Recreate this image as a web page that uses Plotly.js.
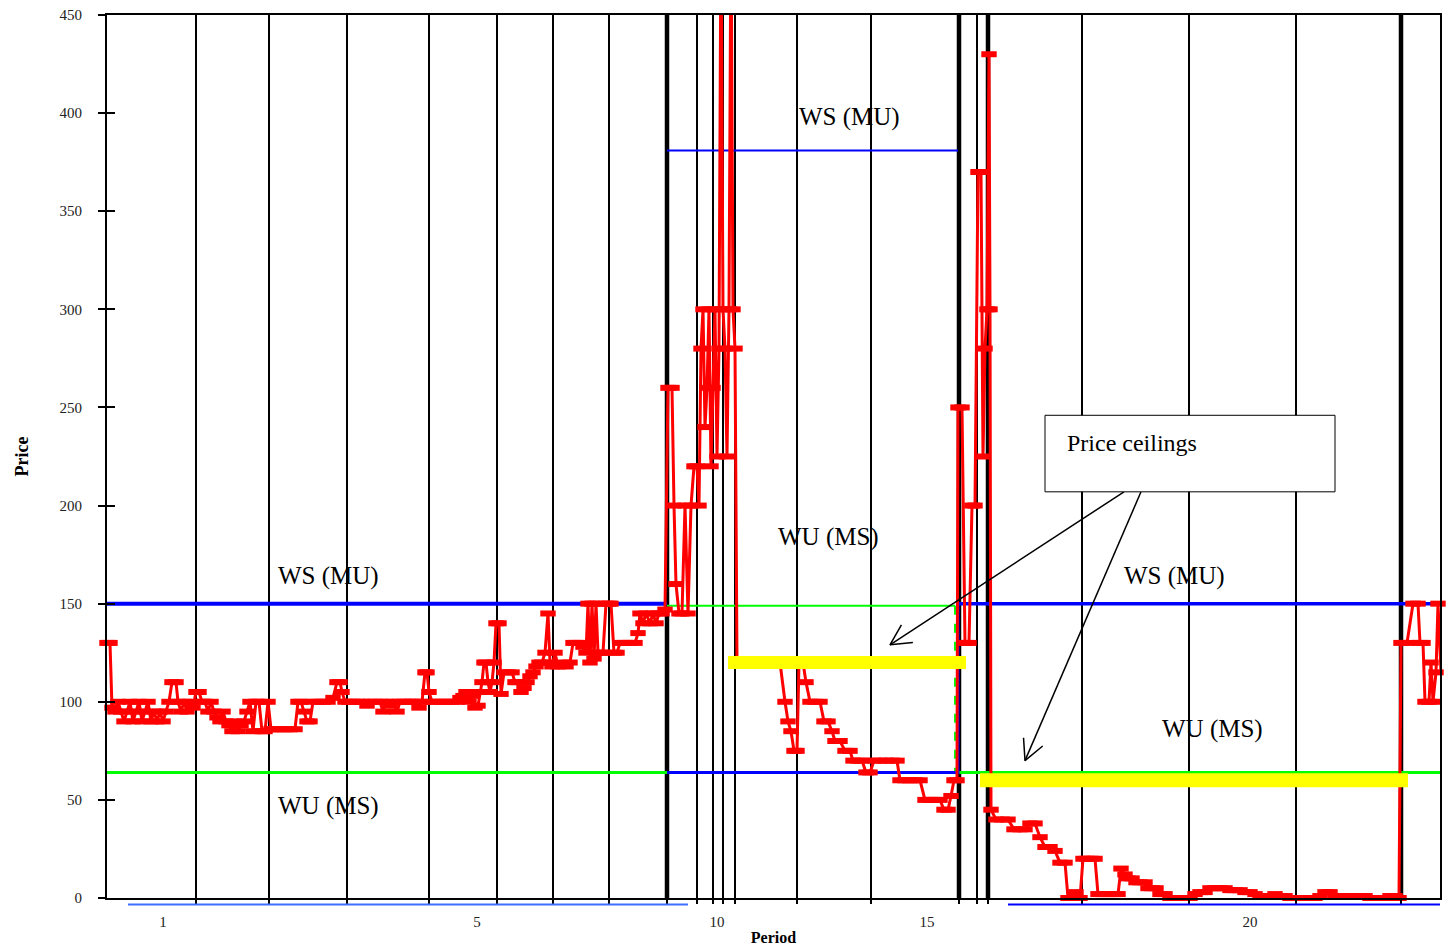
<!DOCTYPE html>
<html>
<head>
<meta charset="utf-8">
<script src="https://cdn.plot.ly/plotly-3.0.1.min.js"></script>
<style>html,body{margin:0;padding:0;background:#fff;}</style>
</head>
<body>
<div id="chart" style="width:1449px;height:950px"></div>
<script>
// ---- data (x = trade number, y = price) ----
const tradeNo = [
  0,3,5,8,11,14,17,20,23,26,29,32,35,38,41,44,47,50,53,56,59,62,65,69,71,74,77,80,83,86,89,
  92,95,98,101,104,107,110,113,116,119,122,125,128,131,134,137,140,143,146,149,152,155,158,161,
  164,168,173,178,183,188,191,194,197,200,203,206,211,216,221,226,230,233,235,238,
  242,246,251,256,260,263,268,273,276,279,283,286,290,293,297,301,305,309,312,315,318,320,322,
  325,330,335,340,345,350,353,356,359,362,365,368,371,373,375,377,379,381,383,385,387,389,392,394,
  397,401,405,408,411,414,417,420,423,426,429,432,435,438,441,443,445,
  448,451,455,459,463,466,469,473,476,479,481,483,485,487,489,491,493,496,499,502,
  504,507,510,513,518,523,528,531,533,536,539,543,546,549,552,555,558,
  561,565,567,569,572,575,578,581,584,587,590,592,594,596,598,600,602,604,606,608,610,612,614,616,618,620,622,624,626,628,630,
  633,643,653,663,673,678,681,684,687,690,692,696,699,703,708,713,717,721,725,728,733,738,743,746,751,755,759,763,767,773,779,785,790,793,798,803,808,813,818,823,828,833,837,841,844,847,850,
  851,855,858,862,865,868,871,874,876,878,880,882,883,884,
  889,895,901,907,913,918,923,928,933,938,943,948,953,958,961,965,969,973,976,980,984,988,991,996,1001,1006,1011,1014,1018,1021,1025,1029,1033,1038,1041,1045,1049,1053,1058,1063,1068,1073,1078,1083,1088,1093,1098,1103,1108,1113,1118,1123,1128,1133,1138,1143,1148,1153,1158,1163,1168,1173,1178,1183,1188,1193,1198,1203,1208,1213,1218,1223,1228,1233,1238,1243,1248,1253,1258,1263,1268,1273,1278,1283,1288,1292,
  1294,1300,1306,1311,1313,1316,1318,1322,1324,1326,1329,1331,1334,1337
];
const price = [
  130,130,97,95,100,95,90,95,100,90,95,100,90,95,100,90,95,90,95,90,95,100,110,110,100,95,100,95,100,97,105,
  105,100,100,95,100,95,92,90,95,90,88,85,90,85,88,90,95,100,85,100,100,85,85,100,
  86,86,86,86,86,86,100,100,95,90,90,100,100,100,100,102,110,110,105,100,
  100,100,100,100,98,100,100,100,95,100,98,100,95,100,100,100,100,100,97,100,115,115,105,
  100,100,100,100,100,100,102,103,105,100,103,97,98,105,110,120,120,110,105,110,120,140,140,104,
  115,115,115,110,110,105,107,110,113,115,118,120,120,125,145,120,118,
  125,118,120,118,120,130,130,130,128,125,150,120,150,122,150,125,125,125,150,150,
  150,125,125,130,130,130,130,135,145,140,145,140,145,140,145,145,147,
  260,260,200,160,145,145,200,145,200,220,220,200,280,300,240,260,300,220,260,300,225,280,500,300,280,225,300,500,300,280,120,
  120,120,120,120,120,100,90,85,75,75,120,120,110,100,100,100,90,90,85,80,80,75,75,70,70,70,64,64,70,70,70,70,70,60,60,60,60,60,50,50,50,50,45,45,52,60,60,
  250,250,130,130,200,200,370,370,225,280,300,430,300,45,
  40,40,40,35,35,35,38,38,31,26,26,24,18,18,0,0,3,0,20,20,20,20,2,2,2,2,2,15,12,10,10,8,8,8,5,5,5,2,2,0,0,0,0,0,2,3,3,5,5,5,5,4,4,4,3,3,2,1,1,1,2,1,1,0,0,0,0,0,0,1,3,3,1,1,1,1,1,1,1,0,0,0,0,1,1,0,
  130,130,150,150,130,130,100,100,120,100,115,150,115,150
];

// period boundaries (trade numbers) and the heavier regime boundaries
const periodBounds = [89,162,240,322,390,446,502,560,590,606,616,628,690,764,852,870,881,975,1082,1189,1294];
const heavyBounds = [560,852,881,1294];
const periodTickPos = [56,370,610,820,1143];
const periodTickText = ['1','5','10','15','20'];
const priceTicks = [0,50,100,150,200,250,300,350,400,450];

// value / cost limits per regime
const regimeStart = [0,560,851];
const regimeEnd = [560,851,1333];
const blueLevel = [150,381,150];
const greenLevel = [64,149,64];
const lowBlueLevel = 64;      // regime 2 lower blue line

// price ceilings
const ceilingStart = [621,873];
const ceilingEnd = [859,1301];
const ceilingLevel = [120,60];

// thin blue rules under the axis
const ruleStart = [21,901];
const ruleEnd = [581,1342];
const ruleColor = ['#3f6fff','#0000ff'];

// regime labels
const labelText = ['WS (MU)','WU (MS)','WS (MU)','WU (MS)','WS (MU)','WU (MS)'];
const labelT = [221,221,742,721,1067,1105];
const labelP = [164,47,398,184,164,86];

// "Price ceilings" call-out
const boxT = [938,1228];
const boxP = [207,246];
const boxTextT = 958, boxTextP = 232;
const arrowTailT = [1017,1034], arrowTailP = [207,207];
const arrowTipT = [783,918], arrowTipP = [129,70];

// ---- geometry helpers ----
const W = 1449, H = 950, M = {l:107, r:9, t:15, b:52};
const xRange = [0,1333], yRange = [0,450];
const pxPerT = (W - M.l - M.r) / (xRange[1]-xRange[0]);
const pxPerP = (H - M.t - M.b) / (yRange[1]-yRange[0]);

function vlines(xs){
  const x=[],y=[];
  xs.forEach(v=>{x.push(v,v,null);y.push(yRange[0],yRange[1],null);});
  return {x,y};
}

const traces = [];
const thin = vlines(periodBounds);
traces.push({x:thin.x,y:thin.y,mode:'lines',line:{color:'#000',width:2},hoverinfo:'skip'});
const thick = vlines(heavyBounds);
traces.push({x:thick.x,y:thick.y,mode:'lines',line:{color:'#000',width:4.5},hoverinfo:'skip'});

// green lines
traces.push({x:[regimeStart[0],regimeEnd[0]],y:[greenLevel[0],greenLevel[0]],mode:'lines',line:{color:'#00ff00',width:3}});
traces.push({x:[regimeStart[1],regimeEnd[1]-3],y:[greenLevel[1],greenLevel[1]],mode:'lines',line:{color:'#00ff00',width:2}});
traces.push({x:[regimeEnd[1]-3,regimeEnd[1]-3],y:[greenLevel[1],greenLevel[0]],mode:'lines',line:{color:'#00ff00',width:2,dash:'dash'}});
traces.push({x:[regimeStart[2],regimeEnd[2]],y:[greenLevel[2],greenLevel[2]],mode:'lines',line:{color:'#00ff00',width:3}});
// blue lines
traces.push({x:[regimeStart[0],regimeEnd[0]],y:[blueLevel[0],blueLevel[0]],mode:'lines',line:{color:'#0000ff',width:4}});
traces.push({x:[regimeStart[1],regimeEnd[1]],y:[blueLevel[1],blueLevel[1]],mode:'lines',line:{color:'#0000ff',width:2}});
traces.push({x:[regimeStart[1],regimeEnd[1],regimeEnd[1]],y:[lowBlueLevel,lowBlueLevel,blueLevel[2]],mode:'lines',line:{color:'#0000ff',width:3}});
traces.push({x:[regimeStart[2],regimeEnd[2]],y:[blueLevel[2],blueLevel[2]],mode:'lines',line:{color:'#0000ff',width:3.5}});

// price series
traces.push({x:tradeNo,y:price,mode:'lines+markers',cliponaxis:false,
  line:{color:'#ff0000',width:3},
  marker:{symbol:'line-ew',size:11,color:'#ff0000',line:{color:'#ff0000',width:6}}});

// price ceilings
ceilingStart.forEach((s,i)=>{
  traces.push({x:[s,ceilingEnd[i]],y:[ceilingLevel[i],ceilingLevel[i]],mode:'lines',line:{color:'#ffff00',width:i===0?13:14}});
});

// arrows (shaft + open head)
arrowTipT.forEach((tt,i)=>{
  const tp = arrowTipP[i];
  const dx = (arrowTailT[i]-tt)*pxPerT, dy = -(arrowTailP[i]-tp)*pxPerP;
  const len = Math.hypot(dx,dy), ux = dx/len, uy = dy/len;
  const head = 23, ang = 27*Math.PI/180;
  const arm = s=>{
    const c=Math.cos(s*ang), sn=Math.sin(s*ang);
    const rx = ux*c - uy*sn, ry = ux*sn + uy*c;
    return [tt + rx*head/pxPerT, tp - ry*head/pxPerP];
  };
  const a1 = arm(1), a2 = arm(-1);
  traces.push({x:[arrowTailT[i],tt,null,a1[0],tt,a2[0]],y:[arrowTailP[i],tp,null,a1[1],tp,a2[1]],
    mode:'lines',line:{color:'#000',width:1.5},hoverinfo:'skip'});
});

// dummy trace so that the overlay axes (tick marks) exist
traces.push({x:[xRange[0]],y:[yRange[0]],xaxis:'x2',yaxis:'y2',mode:'markers',marker:{opacity:0},hoverinfo:'skip'});

const annotations = labelText.map((t,i)=>({x:labelT[i],y:labelP[i],xref:'x',yref:'y',text:t,showarrow:false,
  font:{family:'Liberation Serif',size:25,color:'#000'},xanchor:'center',yanchor:'middle'}));
annotations.push({x:boxTextT,y:boxTextP,xref:'x',yref:'y',text:'Price ceilings',showarrow:false,
  font:{family:'Liberation Serif',size:24,color:'#000'},xanchor:'left',yanchor:'middle'});

const shapes = [
  {type:'rect',xref:'x',yref:'y',x0:boxT[0],x1:boxT[1],y0:boxP[0],y1:boxP[1],
   line:{color:'#000',width:1},fillcolor:'#fff',layer:'above'}
];
ruleStart.forEach((s,i)=>{
  shapes.push({type:'line',xref:'x',yref:'paper',x0:s,x1:ruleEnd[i],y0:-0.0074,y1:-0.0074,
    line:{color:ruleColor[i],width:2}});
});

const tickFont = {family:'Liberation Serif',size:15,color:'#222'};
const layout = {
  width:W,height:H,margin:{l:M.l,r:M.r,t:M.t,b:M.b,pad:0},
  paper_bgcolor:'#fff',plot_bgcolor:'#fff',showlegend:false,
  font:{family:'Liberation Serif',color:'#000'},
  xaxis:{range:xRange,tickvals:periodTickPos,ticktext:periodTickText,ticks:'',showgrid:false,zeroline:false,
    showline:true,linecolor:'#000',linewidth:2,mirror:true,tickfont:tickFont,ticklabelstandoff:9,
    title:{text:'<b>Period</b>',font:{family:'Liberation Serif',size:16,color:'#000'},standoff:3}},
  xaxis2:{overlaying:'x',anchor:'y2',range:xRange,tickvals:periodBounds,ticks:'outside',ticklen:5,tickwidth:2,
    tickcolor:'#000',showticklabels:false,showgrid:false,zeroline:false,showline:false},
  yaxis:{range:yRange,tickvals:priceTicks,ticks:'outside',ticklen:7,tickwidth:2,tickcolor:'#000',
    showline:true,linecolor:'#000',linewidth:2,mirror:true,showgrid:false,zeroline:false,
    tickfont:tickFont,ticklabelstandoff:13,
    title:{text:'<b>Price</b>',font:{family:'Liberation Serif',size:18,color:'#000'},standoff:26}},
  yaxis2:{overlaying:'y',anchor:'x2',range:yRange,tickvals:priceTicks,ticks:'inside',ticklen:8,tickwidth:2,
    tickcolor:'#000',showticklabels:false,showgrid:false,zeroline:false,showline:false},
  annotations:annotations,
  shapes:shapes
};

Plotly.newPlot('chart',traces,layout,{staticPlot:true,displayModeBar:false});
</script>
</body>
</html>
